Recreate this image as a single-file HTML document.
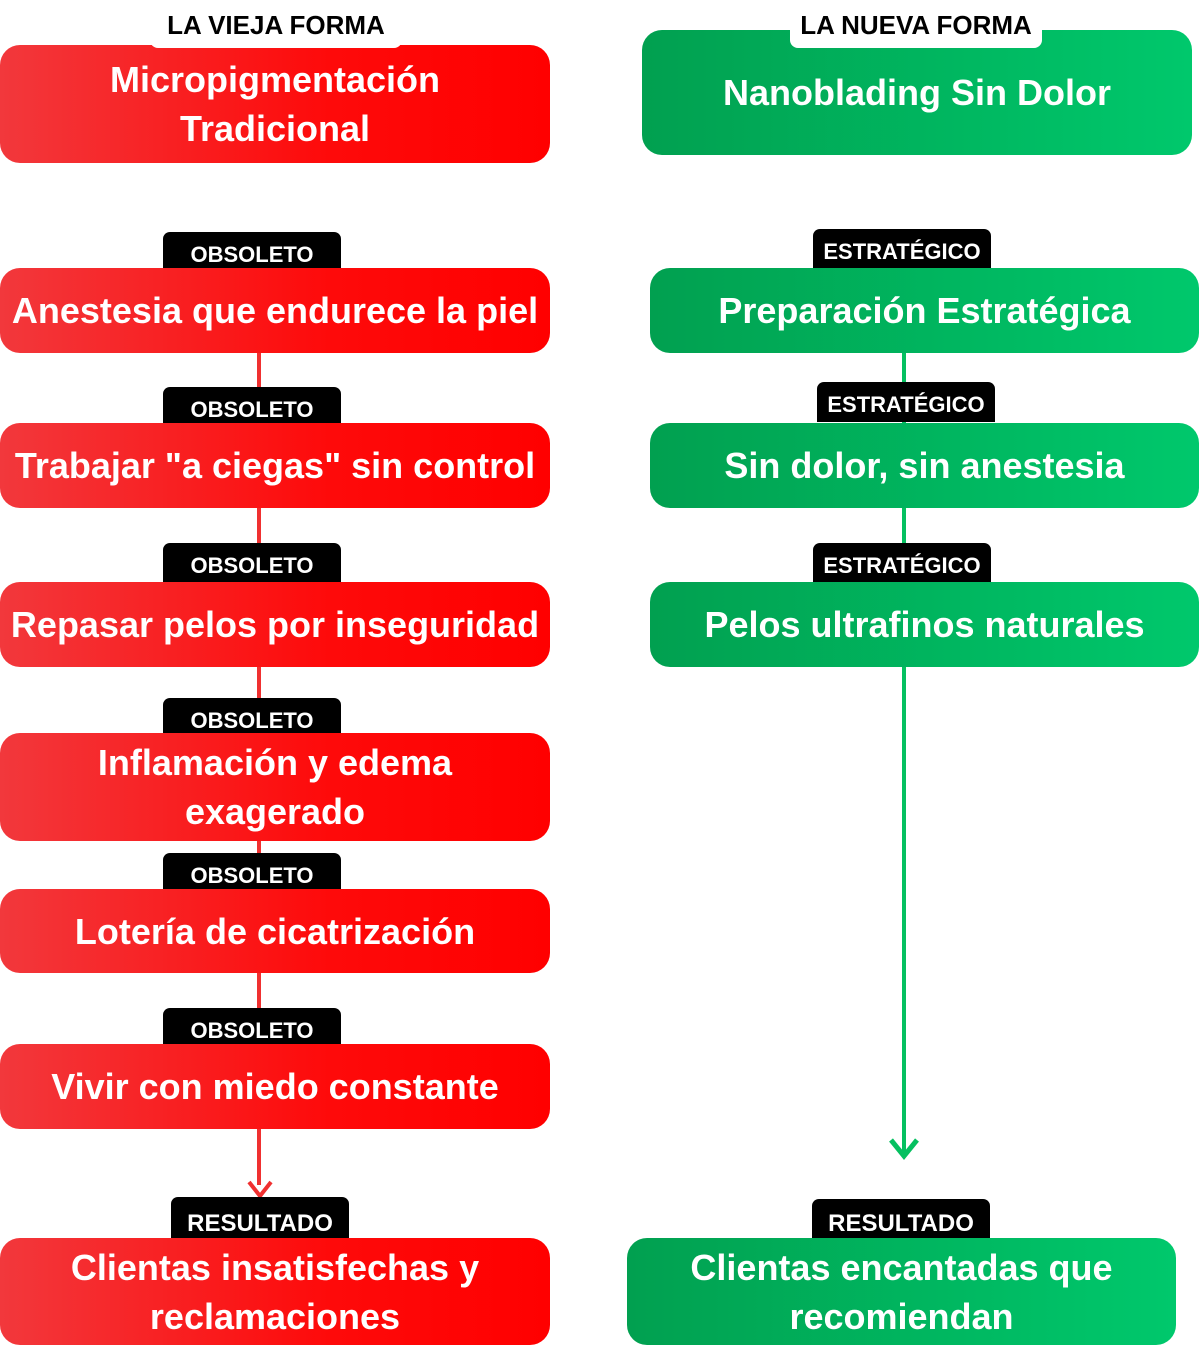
<!DOCTYPE html>
<html><head><meta charset="utf-8"><style>
body{margin:0;width:1200px;height:1347px;background:#fff;position:relative;overflow:hidden;font-family:"Liberation Sans",sans-serif}
.b{position:absolute;border-radius:20px;color:#fff;font-weight:bold;font-size:36px;display:flex;align-items:center;justify-content:center;text-align:center;line-height:49px;white-space:nowrap}
.r{background:linear-gradient(90deg,#f2383c,#fe0a0a 60%,#ff0000)}
.g{background:linear-gradient(90deg,#01a050,#00c86c)}
.t{position:absolute;background:#000;color:#fff;font-weight:bold;font-size:22px;border-radius:7px 7px 0 0;text-align:center;line-height:46px;height:40px;overflow:hidden}
.w{position:absolute;background:#fff;color:#000;font-weight:bold;font-size:26px;text-align:center;border-radius:8px;height:40px;line-height:34px}
.l{position:absolute;width:4px}
</style></head><body>
<div class="l" style="left:257px;top:340px;height:720px;background:#f03030"></div>
<div class="l" style="left:257px;top:1125px;height:60px;background:#f03030"></div>
<svg style="position:absolute;left:247px;top:1178px" width="26" height="22"><path d="M2 4 L13 18 L24 4" fill="none" stroke="#f03030" stroke-width="4"/></svg>
<div class="l" style="left:902px;top:340px;height:815px;background:#05c060"></div>
<svg style="position:absolute;left:888px;top:1136px" width="32" height="26"><path d="M3 4 L16 20 L29 4" fill="none" stroke="#05c060" stroke-width="5"/></svg>

<div class="b r" style="left:0;top:45px;width:550px;height:118px">Micropigmentación<br>Tradicional</div>
<div class="w" style="left:150px;top:8px;width:252px">LA VIEJA FORMA</div>
<div class="b g" style="left:642px;top:30px;width:550px;height:125px">Nanoblading Sin Dolor</div>
<div class="w" style="left:790px;top:8px;width:252px">LA NUEVA FORMA</div>

<div class="t" style="left:163px;top:232px;width:178px">OBSOLETO</div>
<div class="b r" style="left:0;top:268px;width:550px;height:85px">Anestesia que endurece la piel</div>
<div class="t" style="left:163px;top:387px;width:178px">OBSOLETO</div>
<div class="b r" style="left:0;top:423px;width:550px;height:85px">Trabajar "a ciegas" sin control</div>
<div class="t" style="left:163px;top:543px;width:178px">OBSOLETO</div>
<div class="b r" style="left:0;top:582px;width:550px;height:85px">Repasar pelos por inseguridad</div>
<div class="t" style="left:163px;top:698px;width:178px">OBSOLETO</div>
<div class="b r" style="left:0;top:733px;width:550px;height:108px">Inflamación y edema<br>exagerado</div>
<div class="t" style="left:163px;top:853px;width:178px">OBSOLETO</div>
<div class="b r" style="left:0;top:889px;width:550px;height:84px">Lotería de cicatrización</div>
<div class="t" style="left:163px;top:1008px;width:178px">OBSOLETO</div>
<div class="b r" style="left:0;top:1044px;width:550px;height:85px">Vivir con miedo constante</div>
<div class="t" style="left:171px;top:1197px;width:178px;font-size:24px;line-height:54px;height:41px">RESULTADO</div>
<div class="b r" style="left:0;top:1238px;width:550px;height:107px">Clientas insatisfechas y<br>reclamaciones</div>

<div class="t" style="left:813px;top:229px;width:178px">ESTRATÉGICO</div>
<div class="b g" style="left:650px;top:268px;width:549px;height:85px">Preparación Estratégica</div>
<div class="t" style="left:817px;top:382px;width:178px">ESTRATÉGICO</div>
<div class="b g" style="left:650px;top:423px;width:549px;height:85px">Sin dolor, sin anestesia</div>
<div class="t" style="left:813px;top:543px;width:178px">ESTRATÉGICO</div>
<div class="b g" style="left:650px;top:582px;width:549px;height:85px">Pelos ultrafinos naturales</div>
<div class="t" style="left:812px;top:1199px;width:178px;font-size:24px;line-height:50px">RESULTADO</div>
<div class="b g" style="left:627px;top:1238px;width:549px;height:107px">Clientas encantadas que<br>recomiendan</div>
</body></html>
